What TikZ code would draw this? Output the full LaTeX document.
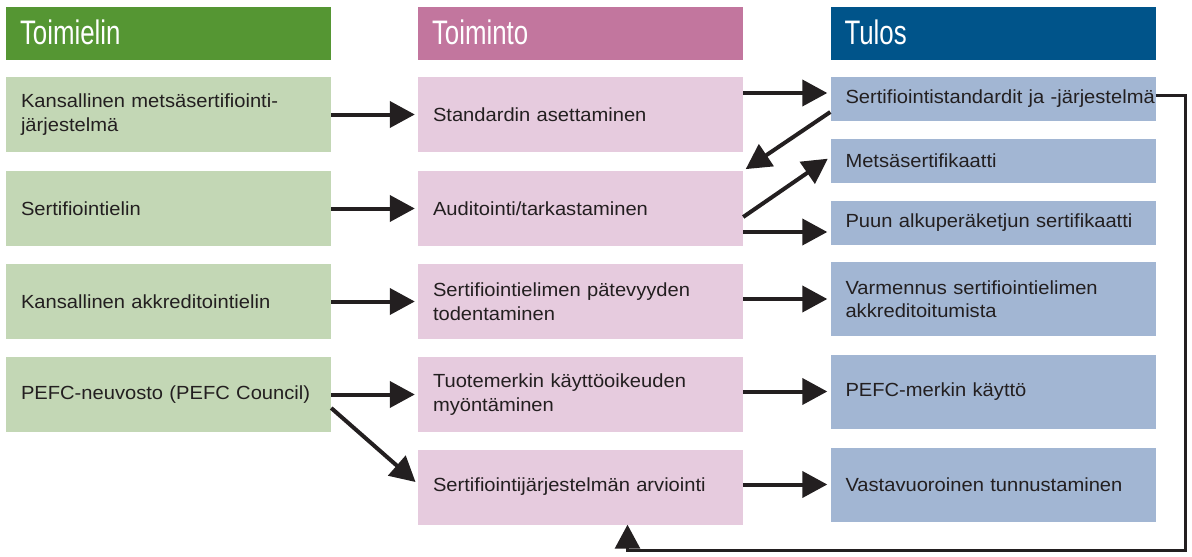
\documentclass[tikz,border=0pt]{standalone}
\usepackage{fontspec}
\setmainfont{Liberation Sans}
\newfontfamily\bodyfont[FakeStretch=1.06]{Liberation Sans}
\newfontfamily\headfont[FakeStretch=0.76]{Liberation Sans}
\usetikzlibrary{arrows.meta}
\definecolor{ink}{HTML}{231F20}
\definecolor{hgreen}{HTML}{559633}
\definecolor{lgreen}{HTML}{C3D7B5}
\definecolor{hpink}{HTML}{C2769E}
\definecolor{lpink}{HTML}{E6CBDE}
\definecolor{hblue}{HTML}{00548A}
\definecolor{lblue}{HTML}{A2B6D3}
\tikzset{
  hd/.style={minimum width=325pt, minimum height=53pt, text width=297pt, inner xsep=14pt, inner ysep=0pt, align=left, text=white, font=\headfont\fontsize{34}{34}\selectfont},
  box/.style={minimum width=325pt, text width=295pt, inner xsep=15pt, inner ysep=0pt, align=left, text=ink, font=\bodyfont\fontsize{19}{23.5}\selectfont},
  arr/.style={line width=4pt, draw=ink, -{Triangle[length=25pt,width=26pt]}, shorten >=3pt}
}

\begin{document}
\begin{tikzpicture}[x=1pt, y=-1pt]
\useasboundingbox (0,0) rectangle (1192,557);
\node[hd, fill=hgreen] (hT) at (168.5,33.5) {\raisebox{2pt}{Toimielin}};
\node[hd, fill=hpink] (hA) at (580.5,33.5) {\raisebox{2pt}{Toiminto}};
\node[hd, fill=hblue] (hR) at (993,33.5) {\raisebox{2pt}{Tulos}};

\node[box, fill=lgreen, minimum height=75pt] (t1) at (168.5,114.5) {Kansallinen metsäsertifiointi-\\järjestelmä};
\node[box, fill=lgreen, minimum height=75pt] (t2) at (168.5,208.5) {Sertifiointielin};
\node[box, fill=lgreen, minimum height=75pt] (t3) at (168.5,301.5) {Kansallinen akkreditointielin};
\node[box, fill=lgreen, minimum height=75pt] (t4) at (168.5,394.5) {PEFC-neuvosto (PEFC Council)};

\node[box, fill=lpink, minimum height=75pt] (a1) at (580.5,114.5) {Standardin asettaminen};
\node[box, fill=lpink, minimum height=75pt] (a2) at (580.5,208.5) {Auditointi/tarkastaminen};
\node[box, fill=lpink, minimum height=75pt] (a3) at (580.5,301.5) {Sertifiointielimen pätevyyden\\todentaminen};
\node[box, fill=lpink, minimum height=75pt] (a4) at (580.5,394.5) {Tuotemerkin käyttöoikeuden\\myöntäminen};
\node[box, fill=lpink, minimum height=75pt] (a5) at (580.5,487) {Sertifiointijärjestelmän arviointi};

\node[box, fill=lblue, minimum height=44pt] (r1) at (993,99) {\mbox{Sertifiointistandardit ja -järjestelmä}};
\node[box, fill=lblue, minimum height=44pt] (r2) at (993,161) {Metsäsertifikaatti};
\node[box, fill=lblue, minimum height=44pt] (r3) at (993,222.5) {Puun alkuperäketjun sertifikaatti};
\node[box, fill=lblue, minimum height=74pt] (r4) at (993,299) {Varmennus sertifiointielimen\\akkreditoitumista};
\node[box, fill=lblue, minimum height=74pt] (r5) at (993,391.5) {PEFC-merkin käyttö};
\node[box, fill=lblue, minimum height=74pt] (r6) at (993,484.5) {Vastavuoroinen tunnustaminen};

\draw[arr] (t1.east) -- (a1.west);
\draw[arr] (t2.east) -- (a2.west);
\draw[arr] (t3.east) -- (a3.west);
\draw[arr] (t4.east) -- (a4.west);
\draw[arr] ([yshift=-13.5pt]t4.east) -- ([yshift=3pt]a5.west);

\draw[arr] ([yshift=6pt]r1.west -| a1.east) -- ([yshift=6pt]r1.west);
\draw[arr] ([yshift=-13pt]r1.west) -- (a2.north east);
\draw[arr] ([yshift=-8.5pt]a2.east) -- ([yshift=4pt]r2.west);
\draw[arr] ([yshift=-23.5pt]a2.east) -- ([yshift=-23.5pt]a2.east -| r3.west);
\draw[arr] (a3.east |- r4.west) -- (r4.west);
\draw[arr] (a4.east |- r5.west) -- (r5.west);
\draw[arr] (a5.east |- r6.west) -- (r6.west);

\coordinate (lp) at (1185,550);
\draw[line width=3pt, draw=ink, -{Triangle[length=24pt,width=25pt]}] ([yshift=4pt]r1.east) -| (lp) -| ([xshift=47pt]a5.south);
\end{tikzpicture}
\end{document}
